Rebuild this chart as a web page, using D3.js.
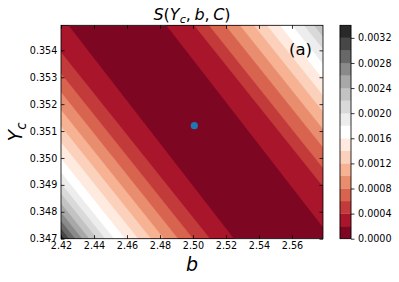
<!DOCTYPE html>
<html>
<head>
<meta charset="utf-8">
<title>S(Yc, b, C)</title>
<script src="https://d3js.org/d3.v7.min.js"></script>
<style>
  body { margin: 0; background: #fff; }
  text { font-family: "DejaVu Sans", sans-serif; }
</style>
</head>
<body>
<svg id="mainsvg" width="399" height="282"></svg>
<script>
// ---------- data ----------
// band edges of S (one colour per band)
const levels = [0, 0.0002, 0.0004, 0.0006, 0.0008, 0.0010, 0.0012, 0.0014, 0.0016,
                0.0018, 0.0020, 0.0022, 0.0024, 0.0026, 0.0028, 0.0030, 0.0032, 0.0034];
// contour lines on the lower-left side of the valley (levels 0.0002 .. 0.0032):
// b where each line meets Yc = 0.347 and Yc = 0.355
const lowB347 = [2.5248, 2.5103, 2.5000, 2.4909, 2.4824, 2.4745, 2.4667, 2.4588,
                 2.4521, 2.4467, 2.4418, 2.4370, 2.4327, 2.4285, 2.4248, 2.4218];
const lowB355 = [2.4236, 2.4060, 2.3957, 2.3866, 2.3781, 2.3702, 2.3624, 2.3545,
                 2.3478, 2.3424, 2.3375, 2.3327, 2.3284, 2.3242, 2.3205, 2.3175];
// contour lines on the upper-right side (levels 0.0002 .. 0.0024)
const highB347 = [2.5842, 2.6041, 2.6131, 2.6231, 2.6319, 2.6404, 2.6483, 2.6562,
                  2.6635, 2.6707, 2.6768, 2.6816];
const highB355 = [2.4830, 2.4998, 2.5088, 2.5188, 2.5276, 2.5361, 2.5440, 2.5519,
                  2.5592, 2.5664, 2.5725, 2.5773];
// best fit point
const bestB = [2.5008];
const bestYc = [0.3512];
// ticks
const xTicks = [2.42, 2.44, 2.46, 2.48, 2.50, 2.52, 2.54, 2.56];
const yTicks = [0.347, 0.348, 0.349, 0.350, 0.351, 0.352, 0.353, 0.354];
const cbTicks = [0, 0.0004, 0.0008, 0.0012, 0.0016, 0.0020, 0.0024, 0.0028, 0.0032];
// RdGy colour stops
const rdgy = ["#67001f", "#b2182b", "#d6604d", "#f4a582", "#fddbc7", "#ffffff",
              "#e0e0e0", "#bababa", "#878787", "#4d4d4d", "#1a1a1a"];

// ---------- layout ----------
const svg = d3.select("#mainsvg");
const plot = {left: 61, top: 25.3, right: 323, bottom: 238.7};
const cbar = {left: 340, right: 351};

const x = d3.scaleLinear().domain([2.42, 2.5788]).range([plot.left, plot.right]);
const y = d3.scaleLinear().domain([0.347, 0.35493]).range([plot.bottom, plot.top]);
const cb = d3.scaleLinear().domain([0, 0.0034]).range([plot.bottom, plot.top]);
const cmap = d3.scaleLinear().domain(d3.range(rdgy.length).map(i => i / (rdgy.length - 1))).range(rdgy);
const nBands = levels.length - 1;
const bandColor = i => cmap((i + 0.5) / nBands);

svg.append("clipPath").attr("id", "plotclip")
  .append("rect")
  .attr("x", plot.left).attr("y", plot.top)
  .attr("width", plot.right - plot.left).attr("height", plot.bottom - plot.top);

const bands = svg.append("g").attr("clip-path", "url(#plotclip)");

// lowest band fills everything, the rest are painted on top outward
bands.append("rect")
  .attr("x", plot.left).attr("y", plot.top)
  .attr("width", plot.right - plot.left).attr("height", plot.bottom - plot.top)
  .attr("fill", bandColor(0));

const line = d3.line().x(d => x(d[0])).y(d => y(d[1]));
const far = 0.3;

lowB347.forEach((b0, i) => {
  const b1 = lowB355[i];
  bands.append("path")
    .attr("d", line([[b0, 0.347], [b1, 0.355], [b1 - far, 0.355], [b0 - far, 0.347]]) + "Z")
    .attr("fill", bandColor(i + 1))
    .attr("stroke", bandColor(i + 1)).attr("stroke-width", 0.3);
});
highB347.forEach((b0, i) => {
  const b1 = highB355[i];
  bands.append("path")
    .attr("d", line([[b0, 0.347], [b1, 0.355], [b1 + far, 0.355], [b0 + far, 0.347]]) + "Z")
    .attr("fill", bandColor(i + 1))
    .attr("stroke", bandColor(i + 1)).attr("stroke-width", 0.3);
});

// best point
svg.append("g").selectAll("circle").data(bestB).join("circle")
  .attr("cx", d => x(d))
  .attr("cy", (d, i) => y(bestYc[i]))
  .attr("r", 3.6)
  .attr("fill", "#1f77b4");

// ---------- axes ----------
const tickFont = 9.6;
function styleAxis(g) {
  g.select(".domain").remove();
  g.selectAll("line").attr("stroke", "#000").attr("stroke-width", 0.8);
  g.selectAll("text").attr("font-size", tickFont).attr("fill", "#000")
    .attr("font-family", "DejaVu Sans");
}
svg.append("g").attr("transform", `translate(0,${plot.bottom})`)
  .call(d3.axisBottom(x).tickValues(xTicks).tickFormat(d3.format(".2f"))
    .tickSizeInner(-3.5).tickSizeOuter(0).tickPadding(3.5))
  .call(styleAxis);
svg.append("g").attr("transform", `translate(0,${plot.top})`)
  .call(d3.axisTop(x).tickValues(xTicks).tickFormat("")
    .tickSizeInner(-3.5).tickSizeOuter(0))
  .call(styleAxis);
svg.append("g").attr("transform", `translate(${plot.left},0)`)
  .call(d3.axisLeft(y).tickValues(yTicks).tickFormat(d3.format(".3f"))
    .tickSizeInner(-3.5).tickSizeOuter(0).tickPadding(3.7))
  .call(styleAxis);
svg.append("g").attr("transform", `translate(${plot.right},0)`)
  .call(d3.axisRight(y).tickValues(yTicks).tickFormat("")
    .tickSizeInner(-3.5).tickSizeOuter(0))
  .call(styleAxis);

svg.append("rect")
  .attr("x", plot.left).attr("y", plot.top)
  .attr("width", plot.right - plot.left).attr("height", plot.bottom - plot.top)
  .attr("fill", "none").attr("stroke", "#000").attr("stroke-width", 0.8);

// ---------- colorbar ----------
svg.append("g").selectAll("rect").data(d3.range(nBands)).join("rect")
  .attr("x", cbar.left)
  .attr("width", cbar.right - cbar.left)
  .attr("y", i => cb(levels[i + 1]))
  .attr("height", i => cb(levels[i]) - cb(levels[i + 1]))
  .attr("fill", i => bandColor(i))
  .attr("stroke", i => bandColor(i)).attr("stroke-width", 0.3);
svg.append("rect")
  .attr("x", cbar.left).attr("y", plot.top)
  .attr("width", cbar.right - cbar.left).attr("height", plot.bottom - plot.top)
  .attr("fill", "none").attr("stroke", "#000").attr("stroke-width", 0.8);
svg.append("g").attr("transform", `translate(${cbar.right},0)`)
  .call(d3.axisRight(cb).tickValues(cbTicks).tickFormat(d3.format(".4f"))
    .tickSizeInner(3.5).tickSizeOuter(0).tickPadding(3.5))
  .call(styleAxis);

// ---------- labels ----------
const title = svg.append("text")
  .attr("x", (plot.left + plot.right) / 2).attr("y", 20)
  .attr("text-anchor", "middle").attr("font-size", 16);
title.append("tspan").attr("font-style", "italic").text("S");
title.append("tspan").text("(");
title.append("tspan").attr("font-style", "italic").text("Y");
title.append("tspan").attr("font-style", "italic").attr("font-size", 11.2).attr("dy", 3).text("c");
title.append("tspan").attr("dy", -3).text(",");
title.append("tspan").attr("font-style", "italic").attr("dx", 3.5).text("b");
title.append("tspan").text(",");
title.append("tspan").attr("font-style", "italic").attr("dx", 3.5).text("C");
title.append("tspan").text(")");

svg.append("text")
  .attr("x", (plot.left + plot.right) / 2).attr("y", 271)
  .attr("text-anchor", "middle").attr("font-size", 19).attr("font-style", "italic")
  .text("b");

const ylab = svg.append("text")
  .attr("transform", `translate(22,${(plot.top + plot.bottom) / 2}) rotate(-90)`)
  .attr("text-anchor", "middle").attr("font-size", 19).attr("font-style", "italic");
ylab.append("tspan").text("Y");
ylab.append("tspan").attr("font-size", 13.3).attr("dy", 3.5).text("c");

svg.append("text")
  .attr("x", 312).attr("y", 54.5)
  .attr("text-anchor", "end").attr("font-size", 16.5)
  .text("(a)");
</script>
</body>
</html>
